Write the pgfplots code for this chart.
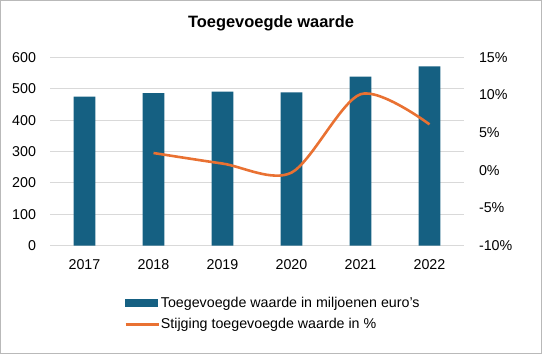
\documentclass[border=0pt]{standalone}
\usepackage{fontspec}
\setmainfont{Liberation Sans}
\usepackage{pgfplots}
\pgfplotsset{compat=1.18}
\definecolor{barblue}{HTML}{156082}
\definecolor{lineorange}{HTML}{E97132}
\definecolor{gridgray}{HTML}{D9D9D9}
\begin{document}
\begin{tikzpicture}
\draw[draw=gray!55, line width=0.8bp] (0.4bp,0.4bp) rectangle (541.6bp,353.6bp);
\node[font=\bfseries\fontsize{16.5}{19}\selectfont] at (271bp,331bp) {Toegevoegde waarde};
\begin{axis}[
  at={(50bp,108.3bp)}, anchor=south west, scale only axis,
  width=414bp, height=188.4bp,
  xmin=-0.5, xmax=5.5, ymin=0, ymax=600,
  xtick={0,1,2,3,4,5}, xticklabels={2017,2018,2019,2020,2021,2022},
  ytick={0,100,200,300,400,500,600},
  major tick length=0pt,
  axis line style={draw=none},
  ymajorgrids, grid style={gridgray, line width=0.9bp},
  /pgf/number format/assume math mode=true,
  tick label style={font=\fontsize{14.3}{17}\selectfont},
  xticklabel style={yshift=-10bp},
  yticklabel style={xshift=-10.5bp},
]
\addplot[ybar, bar width=21.7bp, fill=barblue, draw=none] coordinates {(0,475) (1,486) (2,491) (3,488.5) (4,538.5) (5,571)};
\end{axis}
\begin{axis}[
  at={(50bp,108.3bp)}, anchor=south west, scale only axis,
  width=414bp, height=188.4bp,
  xmin=-0.5, xmax=5.5, ymin=-10, ymax=15,
  hide x axis,
  axis y line*=right,
  axis line style={draw=none},
  major tick length=0pt,
  ytick={-10,-5,0,5,10,15},
  yticklabels={-10\%,-5\%,0\%,5\%,10\%,15\%},
  tick label style={font=\fontsize{14.3}{17}\selectfont},
  yticklabel style={xshift=11.5bp},
  legend style={at={(0.179,-0.36)}, anchor=west, draw=none, fill=none, inner sep=0pt,
    font=\fontsize{14.3}{17}\selectfont, row sep=8bp, nodes={inner sep=1bp}},
  legend cell align=left,
]
\addlegendimage{legend image code/.code={\fill[barblue] (0bp,-3.9bp) rectangle (32bp,3.9bp);}}
\addlegendentry{Toegevoegde waarde in miljoenen euro's}
\addplot[smooth, tension=0.5, lineorange, line width=2.6bp, forget plot] coordinates {(1,2.3) (2,0.9) (3,-0.3) (4,10.1) (5,6.1)};
\addlegendimage{legend image code/.code={\draw[lineorange, line width=2.6bp] (0bp,0bp) -- (33bp,0bp);}}
\addlegendentry{Stijging toegevoegde waarde in \%}
\end{axis}
\end{tikzpicture}
\end{document}
